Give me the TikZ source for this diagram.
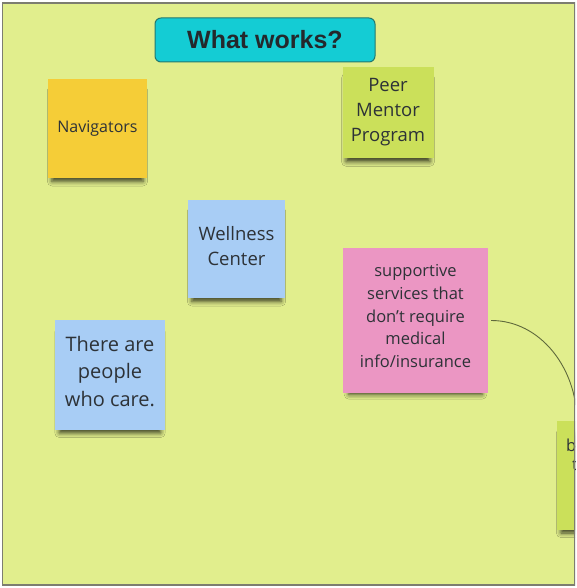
\documentclass[tikz,border=0pt]{standalone}
\usepackage{fontspec}
\setmainfont{Open Sans}
\newfontfamily\headfont{Liberation Sans}
\usepackage{tikz}
\usetikzlibrary{shadows.blur}
\definecolor{board}{RGB}{225, 238, 141}
\definecolor{edge}{RGB}{125, 125, 112}
\definecolor{ink}{RGB}{45, 50, 55}
\definecolor{banner}{RGB}{20, 204, 212}
\definecolor{bannerline}{RGB}{35, 120, 110}
\definecolor{yellownote}{RGB}{245, 205, 55}
\definecolor{bluenote}{RGB}{168, 205, 245}
\definecolor{pinknote}{RGB}{235, 150, 195}
\definecolor{greennote}{RGB}{203, 224, 90}
\definecolor{wire}{RGB}{95, 105, 60}
\tikzset{
    note/.style={rectangle, align=center, text=ink, inner sep=2pt, blur shadow={shadow xshift=0pt, shadow yshift=-8pt, shadow scale=0.92, shadow opacity=75, shadow blur radius=5pt}},
    banner/.style={rectangle, rounded corners=6pt, draw=bannerline, line width=1pt, fill=banner, text=ink!80!black, font=\headfont\bfseries\fontsize{25}{28}\selectfont},
    link/.style={line width=0.9pt, wire, shorten <=3pt}
}

\begin{document}
\begin{tikzpicture}[x=1pt, y=-1pt]
    \useasboundingbox (0,0) rectangle (576,588);
    \fill[white] (0,0) rectangle (576,588);
    \fill[board] (2,3) rectangle (575,585);
    \clip (2,3) rectangle (575,585);

    % Heading
    \node[banner, minimum width=220pt, minimum height=44pt] (heading) at (265,40) {What works?};

    % Sticky notes
    \node[note, fill=yellownote, minimum width=99pt, minimum height=99pt, font=\fontsize{16}{21}\selectfont] (navigators) at (97.5,128.5) {Navigators};
    \node[note, fill=greennote, minimum width=91pt, minimum height=91pt, font=\fontsize{18.5}{25}\selectfont] (peer) at (388,112.5) {Peer\\Mentor\\Program};
    \node[note, fill=bluenote, minimum width=97pt, minimum height=98pt, font=\fontsize{18.5}{25}\selectfont] (wellness) at (236.5,249) {Wellness\\Center\\[-19pt]};
    \node[note, fill=pinknote, minimum width=145pt, minimum height=145pt, font=\fontsize{16.5}{22.8}\selectfont] (supportive) at (415.5,320.5) {supportive\\services that\\don\symbol{"27}t require\\medical\\info/insurance\\[-14pt]};
    \node[note, fill=bluenote, minimum width=110pt, minimum height=110pt, font=\fontsize{20}{27.5}\selectfont] (care) at (110,375) {There are\\people\\who care.\\[-20pt]};
    \node[note, fill=greennote, minimum width=100pt, minimum height=109pt] (cutoff) at (607,475.5) {};
    \node[anchor=north west, inner sep=0pt, align=left, text=ink, font=\fontsize{16.5}{19}\selectfont] (cutofftext) at ([xshift=9pt, yshift=-18pt]cutoff.north west) {b\\\hspace*{6pt}t};

    % Connector
    \draw[link] (supportive.east) to[out=0, in=90] ([xshift=20pt]cutoff.north west);

    % Board frame
    \draw[edge, line width=1.5pt] (2,3) rectangle (575,585);
\end{tikzpicture}
\end{document}
